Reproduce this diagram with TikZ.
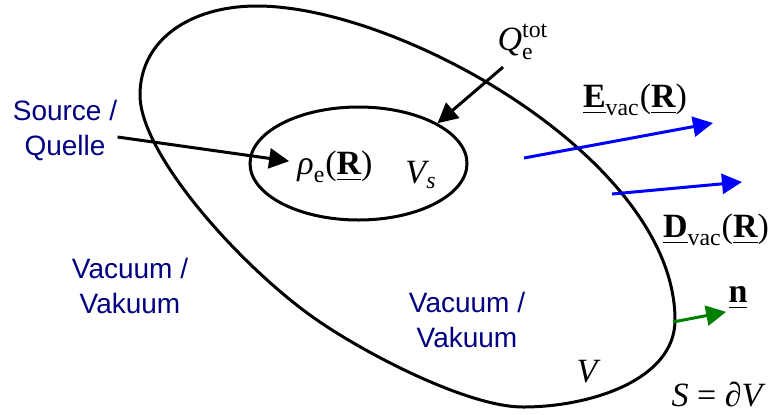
\documentclass[tikz,border=0pt]{standalone}
\usepackage{fontspec}
\usepackage{amsmath}
\setmainfont{Liberation Sans}
\newfontfamily\tnr{Liberation Serif}
\usetikzlibrary{arrows.meta,shapes.geometric}
\definecolor{labelblue}{RGB}{0,0,128}
\definecolor{fieldblue}{RGB}{0,0,255}
\definecolor{normalgreen}{RGB}{0,128,0}
\newcommand{\tm}[1]{\text{\tnr #1}}

\begin{document}
\begin{tikzpicture}[x=0.5pt,y=-0.5pt]

    % Styles for boundaries, arrows and labels
    \tikzset{
        boundary/.style={line width=1.5pt},
        pointer/.style={line width=1.5pt, -{Triangle[length=10pt,width=10pt]}},
        fieldarrow/.style={pointer, fieldblue},
        normalarrow/.style={pointer, normalgreen},
        word/.style={labelblue, font=\fontsize{14}{17.5}\selectfont, align=center, inner sep=0pt},
        symbol/.style={font=\fontsize{17}{20}\selectfont, inner sep=1pt}
    }

    \useasboundingbox (0,0) rectangle (771,414);

    % --- VOLUME V ---
    \draw[boundary] (140,95) .. controls (140,40) and (190,6) .. (257,6)
        .. controls (400,6) and (675,160) .. (675,320)
        .. controls (675,380) and (590,407) .. (523,407)
        .. controls (468,407) and (366,354) .. (317,320)
        .. controls (243,269) and (140,155) .. cycle;

    % --- SOURCE VOLUME V_s ---
    \node[boundary, draw, ellipse, minimum width=108.5pt, minimum height=56.5pt] (inner) at (358.5,163.5) {};

    % --- LABELS ---
    \node[word] (source) at (65,130) {Source /\\Quelle};
    \node[word] (vacout) at (130,286) {Vacuum /\\Vakuum};
    \node[word] (vacin) at (467,320) {Vacuum /\\Vakuum};

    \node[symbol] (rho) at (335,167) {$\tm{\itshape ρ}_{\tm{e}}\tm{(}\underline{\tm{\bfseries R}}\tm{)}$};
    \node[symbol] (Vs) at (421,175) {$\tm{\itshape V}_{\tm{\itshape s}}$};
    \node[symbol] (Q) at (523,42) {$\tm{\itshape Q}_{\tm{e}}^{\tm{tot}}$};
    \node[symbol] (E) at (635,100) {$\underline{\tm{\bfseries E}}_{\tm{vac}}\tm{(}\underline{\tm{\bfseries R}}\tm{)}$};
    \node[symbol] (D) at (716,230) {$\underline{\tm{\bfseries D}}_{\tm{vac}}\tm{(}\underline{\tm{\bfseries R}}\tm{)}$};
    \node[symbol] (n) at (738,298) {$\underline{\tm{\bfseries n}}$};
    \node[symbol] (V) at (587,372) {\tnr\itshape V};
    \node[symbol, anchor=base, inner sep=0pt] (S) at (717,406) {\tnr\itshape S \upshape= \itshape∂V};

    % --- ARROWS ---
    \draw[pointer, shorten >=3pt] ([yshift=-3.5pt]source.east) -- ([yshift=2.5pt]rho.west);
    \draw[pointer] ([xshift=-10pt,yshift=-2.5pt]Q.south) -- (inner.27);

    % field vectors outside the source
    \coordinate (Efoot) at (524,158);
    \coordinate (Ehead) at (713,123);
    \coordinate (Dfoot) at (612,194);
    \coordinate (Dhead) at (742,182);
    \draw[fieldarrow] (Efoot) -- (Ehead);
    \draw[fieldarrow] (Dfoot) -- (Dhead);

    % normal vector on S
    \coordinate (nfoot) at (673,322);
    \draw[normalarrow] (nfoot) -- (n.south west);

\end{tikzpicture}
\end{document}
